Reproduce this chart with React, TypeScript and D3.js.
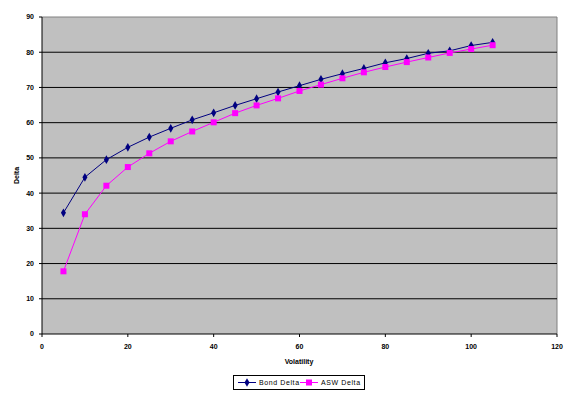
import React from 'react';
import * as d3 from 'd3';

const volatility = [5, 10, 15, 20, 25, 30, 35, 40, 45, 50, 55, 60, 65, 70, 75, 80, 85, 90, 95, 100, 105];
const bondDelta = [34.4, 44.5, 49.5, 53.0, 55.9, 58.4, 60.8, 62.8, 64.9, 66.8, 68.7, 70.5, 72.3, 73.9, 75.4, 77.0, 78.2, 79.7, 80.4, 81.9, 82.8];
const aswDelta = [17.8, 34.0, 42.1, 47.4, 51.3, 54.7, 57.5, 60.1, 62.7, 64.9, 66.9, 69.0, 70.8, 72.6, 74.3, 75.8, 77.2, 78.5, 79.8, 80.9, 82.0];
const xTicks = [0, 20, 40, 60, 80, 100, 120];
const yTicks = [0, 10, 20, 30, 40, 50, 60, 70, 80, 90];

const W = 576;
const H = 395;
const left = 42;
const right = 557;
const top = 17;
const bottom = 334;
const font = 'Arial, "Liberation Sans", sans-serif';

export default function App() {
  const x = d3.scaleLinear().domain([0, 120]).range([left, right]);
  const y = d3.scaleLinear().domain([0, 90]).range([bottom, top]);
  const line = d3.line<number>().x((d, i) => x(volatility[i])).y(d => y(d));

  return (
    <svg width={W} height={H} style={{ position: 'absolute', left: 0, top: 0 }}>
      <rect x={0} y={0} width={W} height={H} fill="#fff" />
      <rect x={left} y={top} width={right - left} height={bottom - top} fill="#c0c0c0" />
      <path d={`M${left},${top}H${right}V${bottom}`} fill="none" stroke="#808080" strokeWidth={1} />
      {yTicks.filter(t => t > 0 && t < 90).map(t => (
        <line key={t} x1={left} x2={right} y1={y(t)} y2={y(t)} stroke="#000" strokeWidth={1} />
      ))}
      <line x1={left} x2={left} y1={top} y2={bottom} stroke="#000" />
      <line x1={left} x2={right} y1={bottom} y2={bottom} stroke="#000" />
      {yTicks.map(t => (
        <g key={t}>
          <line x1={left - 3} x2={left} y1={y(t)} y2={y(t)} stroke="#000" />
          <text x={left - 8} y={y(t)} dy="0.35em" textAnchor="end" fontFamily={font} fontSize={7} fontWeight="bold">{t}</text>
        </g>
      ))}
      {xTicks.map(t => (
        <g key={t}>
          <line x1={x(t)} x2={x(t)} y1={bottom} y2={bottom + 3} stroke="#000" />
          <text x={x(t)} y={bottom + 15} textAnchor="middle" fontFamily={font} fontSize={7} fontWeight="bold">{t}</text>
        </g>
      ))}
      <text x={299} y={364} textAnchor="middle" fontFamily={font} fontSize={7} fontWeight="bold">Volatility</text>
      <text transform={`translate(19,${(top + bottom) / 2}) rotate(-90)`} textAnchor="middle" fontFamily={font} fontSize={7} fontWeight="bold">Delta</text>

      <path d={line(bondDelta) || ''} fill="none" stroke="#000080" strokeWidth={1} />
      {bondDelta.map((d, i) => (
        <path key={i} d={d3.symbol(d3.symbolDiamond, 22)() || ''} transform={`translate(${x(volatility[i])},${y(d)})`} fill="#000080" />
      ))}
      <path d={line(aswDelta) || ''} fill="none" stroke="#ff00ff" strokeWidth={1} />
      {aswDelta.map((d, i) => (
        <rect key={i} x={x(volatility[i]) - 3} y={y(d) - 3} width={6} height={6} fill="#ff00ff" />
      ))}

      <rect x={233.5} y={375.5} width={131} height={14} fill="#fff" stroke="#000" />
      <line x1={238} x2={256} y1={382.5} y2={382.5} stroke="#000080" />
      <path d={d3.symbol(d3.symbolDiamond, 22)() || ''} transform="translate(247,382.5)" fill="#000080" />
      <text x={259} y={382.5} dy="0.35em" fontFamily={font} fontSize={7} letterSpacing={0.6}>Bond Delta</text>
      <line x1={300} x2={318} y1={382.5} y2={382.5} stroke="#ff00ff" />
      <rect x={306} y={379.5} width={6} height={6} fill="#ff00ff" />
      <text x={321} y={382.5} dy="0.35em" fontFamily={font} fontSize={7} letterSpacing={0.6}>ASW Delta</text>
    </svg>
  );
}
